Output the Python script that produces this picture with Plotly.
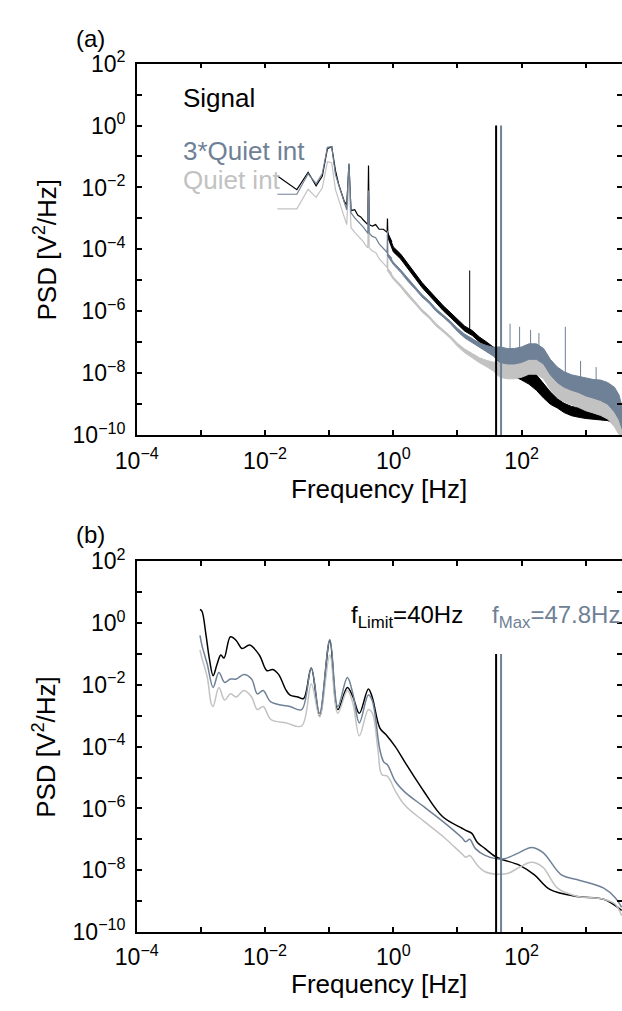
import plotly.graph_objects as go

# ------------------------------------------------------------------
# Panel (a): raw PSD (frequency in Hz, PSD as log10 values)
# ------------------------------------------------------------------
# low-frequency bins, drawn as lines
a_freq = [0.0156, 0.0313, 0.0469, 0.0625, 0.0781, 0.0938, 0.1094, 0.125, 0.1406,
          0.1563, 0.1719, 0.1875, 0.2031, 0.2188, 0.25, 0.28, 0.31, 0.34, 0.38,
          0.40, 0.41, 0.42, 0.47, 0.53, 0.6, 0.7, 0.8, 0.81, 0.82, 0.95]
a_signal_log = [-1.63, -2.07, -1.51, -1.95, -1.63, -0.75, -0.68, -1.45, -1.90,
                -2.20, -2.45, -2.57, -1.25, -2.75, -2.72, -2.90, -2.95, -3.05, -3.15,
                -3.20, -1.29, -3.20, -3.25, -3.20, -3.35, -3.35, -3.45, -3.00, -3.50,
                -3.75]
a_quiet3_log = [-2.22, -2.22, -1.56, -1.88, -1.55, -0.70, -0.68, -1.58, -1.92,
                -2.22, -2.48, -2.72, -1.22, -2.82, -2.98, -3.08, -3.18, -3.28, -3.42,
                -3.48, -2.10, -3.48, -3.58, -3.62, -3.82, -3.98, -4.10, -3.40, -4.15,
                -4.30]
a_quiet_log = [-2.69, -2.69, -2.06, -2.32, -2.01, -1.17, -1.20, -2.06, -2.40,
               -2.70, -2.95, -3.20, -1.70, -3.30, -3.45, -3.55, -3.65, -3.75, -3.90,
               -3.95, -2.60, -3.95, -4.05, -4.10, -4.30, -4.45, -4.58, -3.90, -4.63,
               -4.78]

# dense part of the raw spectra: lower / upper envelope of the noise
a_band_freq = [0.8, 1.0, 1.3, 1.7, 2.2, 2.8, 3.6, 4.6, 6.0, 7.7, 10, 13, 17, 22, 28,
               36, 46, 60, 77, 100, 130, 170, 220, 280, 360, 460, 600, 770, 1000,
               1300, 1700, 2200, 2800, 3300, 3700]
a_signal_hi = [-3.40, -3.92, -4.15, -4.47, -4.78, -5.07, -5.32, -5.57, -5.82, -6.03,
               -6.27, -6.48, -6.62, -6.83, -6.98, -7.15, -7.25, -7.45, -7.60, -7.72,
               -7.85, -8.05, -8.35, -8.60, -8.82, -8.97, -9.07, -9.12, -9.16, -9.17,
               -9.21, -9.23, -9.31, -9.47, -9.73]
a_signal_lo = [-3.56, -4.08, -4.31, -4.63, -4.94, -5.23, -5.48, -5.73, -5.98, -6.19,
               -6.43, -6.64, -6.78, -6.99, -7.14, -7.35, -7.70, -7.95, -8.10, -8.22,
               -8.35, -8.55, -8.80, -9.00, -9.12, -9.27, -9.37, -9.42, -9.46, -9.47,
               -9.51, -9.53, -9.61, -9.77, -10.03]
a_quiet3_hi = [-4.11, -4.41, -4.66, -4.96, -5.21, -5.46, -5.66, -5.91, -6.11, -6.31,
               -6.55, -6.74, -6.88, -7.02, -7.10, -7.16, -7.15, -7.20, -7.20, -7.15,
               -7.05, -7.05, -7.20, -7.55, -7.80, -7.95, -8.05, -8.10, -8.17, -8.20,
               -8.22, -8.30, -8.45, -8.70, -9.10]
a_quiet3_lo = [-4.19, -4.49, -4.74, -5.04, -5.29, -5.54, -5.74, -5.99, -6.19, -6.39,
               -6.65, -6.86, -7.02, -7.18, -7.30, -7.44, -7.65, -7.70, -7.70, -7.65,
               -7.55, -7.55, -7.70, -8.05, -8.30, -8.45, -8.55, -8.62, -8.73, -8.80,
               -8.88, -9.00, -9.25, -9.50, -9.80]
a_quiet_hi = [-4.59, -4.89, -5.14, -5.44, -5.69, -5.94, -6.14, -6.39, -6.59, -6.79,
              -7.03, -7.22, -7.36, -7.50, -7.58, -7.64, -7.63, -7.68, -7.68, -7.63,
              -7.53, -7.53, -7.68, -8.03, -8.28, -8.43, -8.53, -8.58, -8.65, -8.68,
              -8.70, -8.78, -8.93, -9.18, -9.58]
a_quiet_lo = [-4.67, -4.97, -5.22, -5.52, -5.77, -6.02, -6.22, -6.47, -6.67, -6.87,
              -7.13, -7.34, -7.50, -7.66, -7.78, -7.92, -8.13, -8.18, -8.18, -8.13,
              -8.03, -8.03, -8.18, -8.53, -8.78, -8.93, -9.03, -9.10, -9.21, -9.28,
              -9.36, -9.48, -9.73, -9.98, -10.20]

# narrow line peaks
a_sig_spike_freq = [15.5]
a_sig_spike_base = [-6.6]
a_sig_spike_top = [-4.68]
a_q3_spike_freq = [66, 93, 138, 186, 480, 830, 1450]
a_q3_spike_base = [-7.45, -7.40, -7.30, -7.30, -8.20, -8.35, -8.50]
a_q3_spike_top = [-6.40, -6.50, -6.60, -6.70, -6.50, -7.60, -7.80]

# ------------------------------------------------------------------
# Panel (b): smoothed PSD (log10 frequency, log10 PSD)
# ------------------------------------------------------------------
b_signal_logf = [-3.015, -2.985, -2.92, -2.87, -2.81, -2.75, -2.69, -2.64, -2.54,
                 -2.45, -2.36, -2.24, -2.09, -1.97, -1.88, -1.79, -1.67, -1.61,
                 -1.49, -1.40, -1.28, -1.15, -0.99, -0.866, -0.717, -0.63, -0.53,
                 -0.39, -0.33, -0.21, -0.12, 0.03, 0.18, 0.477, 0.77, 1.07, 1.13,
                 1.22, 1.31, 1.43, 1.61, 1.97, 2.2, 2.44, 2.86, 3.28, 3.56]
b_signal_logp = [0.44, 0.39, -0.40, -1.13, -1.70, -1.34, -1.03, -1.13, -0.44,
                 -0.56, -0.82, -0.71, -1.03, -1.54, -1.50, -1.66, -2.18, -2.33,
                 -2.39, -2.44, -1.45, -3.02, -0.56, -2.80, -2.08, -2.39, -2.92,
                 -2.13, -2.39, -3.40, -3.60, -4.00, -4.50, -5.45, -6.27, -6.64, -6.71,
                 -6.80, -7.10, -7.30, -7.58, -7.84, -8.15, -8.62, -8.85, -8.94, -9.30]

b_quiet3_logf = [-3.015, -2.985, -2.9, -2.81, -2.72, -2.63, -2.54, -2.45, -2.33,
                 -2.21, -2.12, -2.03, -1.91, -1.61, -1.43, -1.28, -1.15, -0.99,
                 -0.866, -0.717, -0.63, -0.53, -0.39, -0.33, -0.21, -0.15, -0.09,
                 0.03, 0.18, 0.48, 0.77, 1.07, 1.13, 1.19, 1.28, 1.43, 1.61, 1.73,
                 1.97, 2.15, 2.33, 2.62, 2.86, 3.28, 3.46, 3.56]
b_quiet3_logp = [-0.40, -0.71, -1.34, -2.08, -1.60, -1.92, -1.81, -1.81, -1.66,
                 -1.81, -2.29, -2.18, -2.55, -2.70, -2.80, -1.45, -2.92, -0.53,
                 -2.70, -1.76, -2.29, -3.23, -2.33, -2.50, -4.10, -4.49, -4.59,
                 -5.12, -5.47, -5.95, -6.42, -6.95, -7.08, -7.00, -7.30, -7.52, -7.63,
                 -7.63, -7.42, -7.26, -7.42, -8.15, -8.30, -8.58, -8.89, -9.20]

b_quiet_logf = [-3.015, -2.985, -2.9, -2.84, -2.81, -2.72, -2.63, -2.54, -2.45,
                -2.33, -2.21, -2.12, -2.03, -1.91, -1.67, -1.43, -1.28, -1.15,
                -0.99, -0.866, -0.717, -0.63, -0.53, -0.39, -0.33, -0.24, -0.18,
                -0.09, 0.03, 0.18, 0.48, 0.77, 1.07, 1.13, 1.19, 1.31, 1.43, 1.61,
                1.79, 1.97, 2.15, 2.33, 2.56, 2.86, 3.28, 3.46, 3.56]
b_quiet_logp = [-0.87, -1.13, -1.76, -2.60, -2.70, -2.08, -2.49, -2.29, -2.39,
                -2.18, -2.39, -2.80, -2.70, -3.12, -3.23, -3.33, -1.97, -3.02,
                -1.03, -2.92, -2.18, -2.60, -3.65, -2.80, -2.90, -4.10, -4.90,
                -4.96, -5.43, -5.90, -6.42, -6.90, -7.47, -7.58, -7.52, -7.84, -8.05,
                -8.13, -8.10, -7.90, -7.74, -7.90, -8.58, -8.84, -8.94, -9.10, -9.47]

# frequency markers
f_limit = 40.0
f_max = 47.8
vline_top_a = 1.0
vline_top_b = 0.1
psd_floor = 1e-10

BLACK = "#000000"
SLATE = "#6f8196"
GRAY = "#c2c2c2"
FONT = "Liberation Sans, Arial, Helvetica, sans-serif"


def p(vals):
    return [10 ** v for v in vals]


def band(freq, lo, hi, color, xa, ya):
    return go.Scatter(x=list(freq) + list(freq)[::-1], y=p(hi) + p(lo)[::-1],
                      mode="lines", fill="toself", fillcolor=color,
                      line=dict(color=color, width=1.0), xaxis=xa, yaxis=ya,
                      hoverinfo="skip", showlegend=False)


def line(x, y, color, width, xa, ya, shape="linear"):
    return go.Scatter(x=x, y=y, mode="lines",
                      line=dict(color=color, width=width, shape=shape),
                      xaxis=xa, yaxis=ya, hoverinfo="skip", showlegend=False)


def spikes(freq, base, top, color, xa, ya):
    sx, sy = [], []
    for f, b0, t in zip(freq, base, top):
        sx += [f, f, None]
        sy += [10 ** b0, 10 ** t, None]
    return line(sx, sy, color, 1.0, xa, ya)


fig = go.Figure()

# ---- panel (a)
fig.add_trace(line(a_freq, p(a_signal_log), BLACK, 1.2, "x", "y"))
fig.add_trace(band(a_band_freq, a_signal_lo, a_signal_hi, BLACK, "x", "y"))
fig.add_trace(spikes(a_sig_spike_freq, a_sig_spike_base, a_sig_spike_top, BLACK, "x", "y"))
fig.add_trace(line(a_freq, p(a_quiet_log), GRAY, 1.2, "x", "y"))
fig.add_trace(band(a_band_freq, a_quiet_lo, a_quiet_hi, GRAY, "x", "y"))
fig.add_trace(line(a_freq, p(a_quiet3_log), SLATE, 1.2, "x", "y"))
fig.add_trace(band(a_band_freq, a_quiet3_lo, a_quiet3_hi, SLATE, "x", "y"))
fig.add_trace(spikes(a_q3_spike_freq, a_q3_spike_base, a_q3_spike_top, SLATE, "x", "y"))
fig.add_trace(line([f_limit, f_limit], [vline_top_a, psd_floor], BLACK, 2, "x", "y3"))
fig.add_trace(line([f_max, f_max], [vline_top_a, psd_floor], SLATE, 2, "x", "y3"))

# ---- panel (b)
fig.add_trace(line([10 ** v for v in b_signal_logf], p(b_signal_logp), BLACK, 1.5,
                   "x2", "y2", "spline"))
fig.add_trace(line([10 ** v for v in b_quiet_logf], p(b_quiet_logp), GRAY, 1.5,
                   "x2", "y2", "spline"))
fig.add_trace(line([10 ** v for v in b_quiet3_logf], p(b_quiet3_logp), SLATE, 1.5,
                   "x2", "y2", "spline"))
fig.add_trace(line([f_limit, f_limit], [vline_top_b, psd_floor], BLACK, 2, "x2", "y4"))
fig.add_trace(line([f_max, f_max], [vline_top_b, psd_floor], SLATE, 2, "x2", "y4"))

# ---- axes
x_exps = list(range(-4, 4))
x_vals = [10.0 ** e for e in x_exps]
x_text = [("10<sup>%s</sup>" % str(e).replace("-", "\u2212")) if e % 2 == 0 else ""
          for e in x_exps]
y_exps = list(range(-10, 3))
y_vals = [10.0 ** e for e in y_exps]
y_text = [("10<sup>%s</sup>" % str(e).replace("-", "\u2212")) if e % 2 == 0 else ""
          for e in y_exps]

W, H = 622, 1011
xdom = [119 / W, 1.0]
ydom_a = [1 - 431 / H, 1 - 48 / H]
ydom_b = [1 - 943 / H, 1 - 561 / H]

tickfont = dict(family=FONT, size=23, color="black")
xcommon = dict(type="log", range=[-4, 3.565], domain=xdom, showline=True,
               linecolor="black", linewidth=1.5, mirror="ticks", ticks="inside",
               ticklen=5, tickwidth=1.5, tickcolor="black", tickvals=x_vals,
               ticktext=x_text, tickfont=tickfont, showgrid=False, zeroline=False,
               ticklabelstandoff=4)
ycommon = dict(type="log", range=[-10, 2], showline=True, linecolor="black",
               linewidth=1.5, mirror=False, ticks="inside", ticklen=5, tickwidth=1.5,
               tickcolor="black", tickvals=y_vals, ticktext=y_text, tickfont=tickfont,
               showgrid=False, zeroline=False, ticklabelstandoff=5)
yright = dict(type="log", range=[-10, 2], side="right", showline=False,
              ticks="inside", ticklen=5, tickwidth=1.5, tickcolor="black",
              tickvals=y_vals, showticklabels=False, showgrid=False, zeroline=False)

fig.update_layout(
    width=W, height=H, margin=dict(l=0, r=0, t=0, b=0),
    paper_bgcolor="white", plot_bgcolor="white", showlegend=False,
    xaxis=dict(**xcommon, anchor="y"),
    yaxis=dict(**ycommon, domain=ydom_a, anchor="x"),
    yaxis3=dict(**yright, overlaying="y", anchor="x"),
    xaxis2=dict(**xcommon, anchor="y2"),
    yaxis2=dict(**ycommon, domain=ydom_b, anchor="x2"),
    yaxis4=dict(**yright, overlaying="y2", anchor="x2"),
)

title_font = dict(family=FONT, size=26, color="black")
ann = []
# axis titles
for yc, xt in [(1 - 239.5 / H, 1 - 486 / H), (1 - 752 / H, 1 - 997 / H)]:
    ann.append(dict(x=24 / W, y=yc, xref="paper", yref="paper",
                    text="PSD [V<sup>2</sup>/Hz]", textangle=-90, showarrow=False,
                    font=title_font, xanchor="center", yanchor="middle"))
    ann.append(dict(x=370.5 / W, y=xt, xref="paper", yref="paper",
                    text="Frequency [Hz]", showarrow=False, font=title_font,
                    xanchor="center", yanchor="middle"))
# panel labels
ann.append(dict(x=54 / W, y=1 - 22 / H, xref="paper", yref="paper", text="(a)",
                showarrow=False, font=dict(family=FONT, size=24, color="black"),
                xanchor="left", yanchor="middle"))
ann.append(dict(x=54 / W, y=1 - 533 / H, xref="paper", yref="paper", text="(b)",
                showarrow=False, font=dict(family=FONT, size=24, color="black"),
                xanchor="left", yanchor="middle"))
# legend-like labels in panel (a)
for txt, col, yv in [("Signal", BLACK, 0.88), ("3*Quiet int", SLATE, -0.83),
                     ("Quiet int", GRAY, -1.76)]:
    ann.append(dict(x=-3.31, y=yv, xref="x", yref="y", text=txt, showarrow=False,
                    font=dict(family=FONT, size=26, color=col), xanchor="left",
                    yanchor="middle"))
# frequency labels in panel (b)
ann.append(dict(x=-0.69, y=0.2, xref="x2", yref="y2", text="f<sub>Limit</sub>=40Hz",
                showarrow=False, font=dict(family=FONT, size=24, color=BLACK),
                xanchor="left", yanchor="middle"))
ann.append(dict(x=1.50, y=0.2, xref="x2", yref="y2", text="f<sub>Max</sub>=47.8Hz",
                showarrow=False, font=dict(family=FONT, size=24, color=SLATE),
                xanchor="left", yanchor="middle"))
fig.update_layout(annotations=ann)

fig.write_html("out.html")
